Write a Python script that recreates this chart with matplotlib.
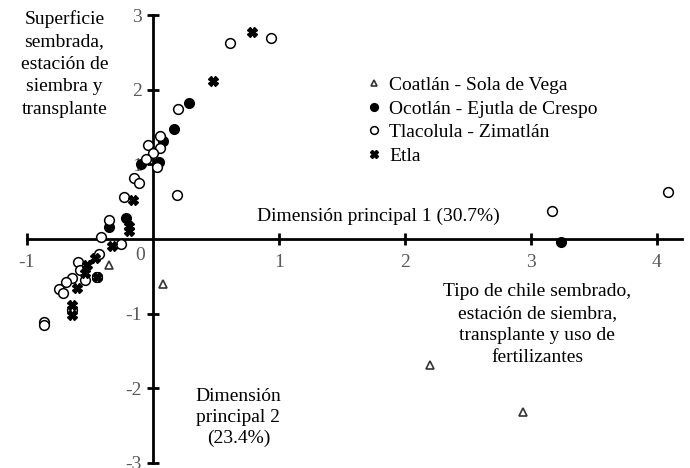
import matplotlib
matplotlib.use("Agg")
import matplotlib.pyplot as plt

# =====================================================
# Data
# =====================================================
coatlan_x = [-0.35, 0.08, 2.20, 2.94]
coatlan_y = [-0.35, -0.60, -1.69, -2.32]

ocotlan_x = [3.24, -0.35, -0.21, -0.09, 0.05, 0.08, 0.17, 0.29]
ocotlan_y = [-0.04, 0.16, 0.28, 1.00, 1.03, 1.31, 1.47, 1.83]

tlacolula_x = [0.61, 0.94, 0.20, 0.06, -0.04, 0.06, 0.00, -0.05, 0.03, -0.15,
               -0.11, -0.23, 0.19, -0.35, -0.41, -0.25, -0.43, -0.59, -0.58,
               -0.54, -0.44, -0.64, -0.69, -0.74, -0.71, -0.86, -0.86, -0.64,
               3.17, 4.09]
tlacolula_y = [2.63, 2.69, 1.75, 1.38, 1.26, 1.22, 1.16, 1.07, 0.96, 0.82,
               0.75, 0.57, 0.59, 0.26, 0.03, -0.07, -0.20, -0.31, -0.42,
               -0.55, -0.51, -0.52, -0.57, -0.67, -0.73, -1.11, -1.15, -0.95,
               0.38, 0.63]

etla_x = [0.79, 0.48, -0.16, -0.19, -0.19, -0.32, -0.46, -0.52, -0.54, -0.44,
          -0.60, -0.64, -0.64]
etla_y = [2.78, 2.12, 0.52, 0.17, 0.11, -0.09, -0.26, -0.35, -0.46, -0.51,
          -0.66, -0.89, -1.02]

series_names = ["Coatlán - Sola de Vega", "Ocotlán - Ejutla de Crespo",
                "Tlacolula - Zimatlán", "Etla"]

x_ticks = [-1, 1, 2, 3, 4]
y_ticks = [-3, -2, -1, 1, 2, 3]

# =====================================================
# Figure
# =====================================================
plt.rcParams["font.family"] = "Liberation Serif"
plt.rcParams["font.size"] = 14

fig = plt.figure(figsize=(6.9, 4.68), dpi=100)
ax = fig.add_axes([0.0387, 0.0113, 0.9497, 0.956])

ax.plot(coatlan_x, coatlan_y, linestyle="none", marker="^", markersize=5.5,
        markerfacecolor="white", markeredgecolor="#333333",
        markeredgewidth=1.2, zorder=3, label=series_names[0])
ax.plot(ocotlan_x, ocotlan_y, linestyle="none", marker="o", markersize=7,
        markerfacecolor="black", markeredgecolor="black", zorder=3,
        label=series_names[1])
ax.plot(tlacolula_x, tlacolula_y, linestyle="none", marker="o", markersize=7,
        markerfacecolor="white", markeredgecolor="black",
        markeredgewidth=1.1, zorder=3, label=series_names[2])
ax.plot(etla_x, etla_y, linestyle="none", marker="X", markersize=6.5,
        markerfacecolor="black", markeredgecolor="black", zorder=3,
        label=series_names[3])

# axes crossing at the origin
ax.set_xlim(-1, 4.2)
ax.set_ylim(-3, 3)
ax.spines["left"].set_position(("data", 0))
ax.spines["bottom"].set_position(("data", 0))
ax.spines["top"].set_visible(False)
ax.spines["right"].set_visible(False)
ax.spines["left"].set_linewidth(2)
ax.spines["bottom"].set_linewidth(2)

ax.set_xticks(x_ticks)
ax.set_yticks(y_ticks)
ax.set_xticklabels([str(t) for t in x_ticks])
ax.set_yticklabels([str(t) for t in y_ticks])
ax.tick_params(direction="inout", length=8, width=2, colors="black",
               labelcolor="#595959", labelsize=14)
ax.tick_params(axis="x", pad=7)
ax.tick_params(axis="y", pad=4)
ax.text(-0.1, -0.11, "0", color="#595959", fontsize=14,
        ha="center", va="top")

# =====================================================
# Annotations
# =====================================================
ax.text(-0.7, 3.07, "Superficie\nsembrada,\nestación de\nsiembra y\ntransplante",
        ha="center", va="top", fontsize=14, linespacing=1.42)
ax.text(1.79, 0.31, "Dimensión principal 1 (30.7%)", ha="center",
        va="center", fontsize=14)
ax.text(3.05, -0.59, "Tipo de chile sembrado,\nestación de siembra,\n"
        "transplante y uso de\nfertilizantes", ha="center", va="top",
        fontsize=14, linespacing=1.38)
ax.text(0.68, -2.0, "Dimensión\nprincipal 2\n(23.4%)", ha="center",
        va="top", fontsize=14, linespacing=1.3)

ax.legend(loc="upper left", bbox_to_anchor=(0.52, 0.857),
          bbox_transform=fig.transFigure, frameon=False, fontsize=14,
          markerscale=0.8, handlelength=0.6, handletextpad=0.45,
          labelspacing=0.3, borderpad=0)

fig.savefig("out.png", dpi=100)
